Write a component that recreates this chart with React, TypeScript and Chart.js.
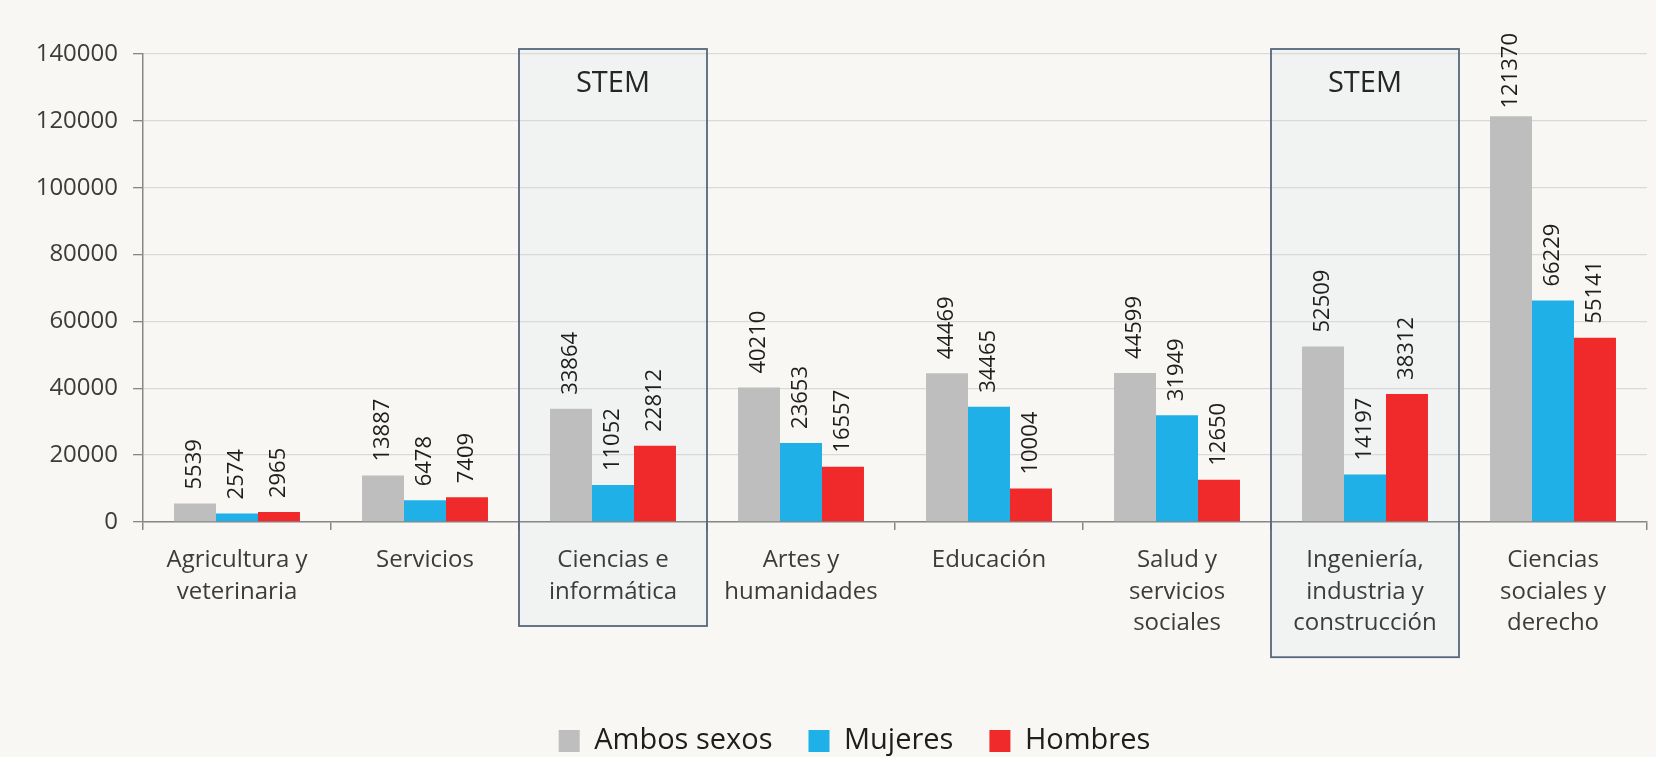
import React, { useEffect, useRef } from 'react';
import { Chart, registerables } from 'chart.js';

Chart.register(...registerables);

// ---- data ----
const categories: string[][] = [
  ['Agricultura y', 'veterinaria'],
  ['Servicios'],
  ['Ciencias e', 'informática'],
  ['Artes y', 'humanidades'],
  ['Educación'],
  ['Salud y', 'servicios', 'sociales'],
  ['Ingeniería,', 'industria y', 'construcción'],
  ['Ciencias', 'sociales y', 'derecho'],
];
const ambosSexos = [5539, 13887, 33864, 40210, 44469, 44599, 52509, 121370];
const mujeres = [2574, 6478, 11052, 23653, 34465, 31949, 14197, 66229];
const hombres = [2965, 7409, 22812, 16557, 10004, 12650, 38312, 55141];
const seriesNames = ['Ambos sexos', 'Mujeres', 'Hombres'];
const stemCategories = [2, 6];
const stemLabel = 'STEM';
const yMin = 0;
const yMax = 140000;
const yStep = 20000;

// ---- style ----
const FONT = "'Open Sans', 'DejaVu Sans', sans-serif";
const BG = '#f8f7f3';
const AXIS = '#878787';
const GRID = '#d9d9d9';
const TEXT = '#3c3c3c';
const COLORS = ['#bebebe', '#1fb0e8', '#f02a2a'];
const TICK_LEN = 8;
const TICK_PAD = 15;
const X_FONT = 24;
const X_LH = 1.3;
const LEGEND_SHIFT = 31;

const backgroundPlugin = {
  id: 'bgAndBoxes',
  beforeDraw(chart: any) {
    const { ctx, width, height } = chart;
    ctx.save();
    ctx.fillStyle = BG;
    ctx.fillRect(0, 0, width, height);
    const xs = chart.scales.x;
    const ys = chart.scales.y;
    const half = xs.width / categories.length / 2;
    stemCategories.forEach((idx) => {
      const cx = xs.getPixelForValue(idx);
      const top = ys.getPixelForValue(yMax) - 5;
      const lines = categories[idx].length;
      const bottom = xs.top + TICK_LEN + TICK_PAD + X_FONT * X_LH * lines + 18.6;
      ctx.fillStyle = 'rgba(228,234,244,0.35)';
      ctx.fillRect(cx - half, top, half * 2, bottom - top);
    });
    ctx.restore();
  },
  afterDatasetsDraw(chart: any) {
    const { ctx } = chart;
    const xs = chart.scales.x;
    const ys = chart.scales.y;
    const half = xs.width / categories.length / 2;
    ctx.save();
    stemCategories.forEach((idx) => {
      const cx = xs.getPixelForValue(idx);
      const top = ys.getPixelForValue(yMax) - 5;
      const lines = categories[idx].length;
      const bottom = xs.top + TICK_LEN + TICK_PAD + X_FONT * X_LH * lines + 18.6;
      ctx.strokeStyle = '#56677a';
      ctx.lineWidth = 1.8;
      ctx.strokeRect(cx - half, top, half * 2, bottom - top);
      ctx.fillStyle = '#262626';
      ctx.font = `29px ${FONT}`;
      ctx.textAlign = 'center';
      ctx.textBaseline = 'middle';
      ctx.fillText(stemLabel, cx, top + 35);
    });
    // data labels
    ctx.font = `22px ${FONT}`;
    ctx.fillStyle = '#1e1e1e';
    ctx.textAlign = 'left';
    ctx.textBaseline = 'middle';
    chart.data.datasets.forEach((ds: any, di: number) => {
      const meta = chart.getDatasetMeta(di);
      meta.data.forEach((el: any, i: number) => {
        const txt = String(ds.data[i]);
        const w = ctx.measureText(txt).width;
        let start = el.y - 14;
        if (start - w < 33) start = 33 + w;
        ctx.save();
        ctx.translate(el.x, start);
        ctx.rotate(-Math.PI / 2);
        ctx.fillText(txt, 0, 0);
        ctx.restore();
      });
    });
    ctx.restore();
  },
  afterLayout(chart: any) {
    if (chart.legend) {
      chart.legend.left += LEGEND_SHIFT;
      chart.legend.right += LEGEND_SHIFT;
    }
  },
};

export default function App() {
  const ref = useRef<HTMLCanvasElement | null>(null);
  useEffect(() => {
    document.body.style.margin = '0';
    document.body.style.background = BG;
    if (!ref.current) return;
    const chart = new Chart(ref.current, {
      type: 'bar',
      data: {
        labels: categories,
        datasets: [ambosSexos, mujeres, hombres].map((d, i) => ({
          label: seriesNames[i],
          data: d,
          backgroundColor: COLORS[i],
          borderWidth: 0,
          barPercentage: 1.0,
          categoryPercentage: 0.67,
        })),
      },
      options: {
        animation: false,
        responsive: false,
        maintainAspectRatio: false,
        layout: { padding: { top: 54, right: 9, left: 0, bottom: 0.5 } },
        plugins: {
          tooltip: { enabled: false },
          legend: {
            position: 'bottom',
            maxHeight: 66,
            labels: {
              font: { family: FONT, size: 29 },
              color: '#1e1e1e',
              boxWidth: 21,
              boxHeight: 22,
              padding: 36,
            },
          },
        },
        scales: {
          x: {
            grid: {
              offset: true,
              drawOnChartArea: false,
              drawTicks: true,
              tickLength: TICK_LEN,
              color: AXIS,
              tickColor: AXIS,
              lineWidth: 1.5,
            },
            border: { color: AXIS, width: 1.5 },
            ticks: {
              font: { family: FONT, size: X_FONT, lineHeight: X_LH },
              color: TEXT,
              padding: TICK_PAD,
              maxRotation: 0,
              minRotation: 0,
              autoSkip: false,
            },
            afterFit: (s: any) => {
              s.height = 168.5;
            },
          },
          y: {
            min: yMin,
            max: yMax,
            ticks: {
              stepSize: yStep,
              font: { family: FONT, size: 24 },
              color: TEXT,
              padding: 15,
              callback: (v: any) => String(v),
            },
            grid: { color: GRID, lineWidth: 1.3, tickColor: AXIS, tickLength: 10 },
            border: { color: AXIS, width: 1.5 },
            afterFit: (s: any) => {
              s.width = 143;
            },
          },
        },
      },
      plugins: [backgroundPlugin],
    } as any);
    return () => chart.destroy();
  }, []);
  return (
    <div style={{ width: 1656, height: 757, background: BG }}>
      <canvas ref={ref} width={1656} height={757} />
    </div>
  );
}
